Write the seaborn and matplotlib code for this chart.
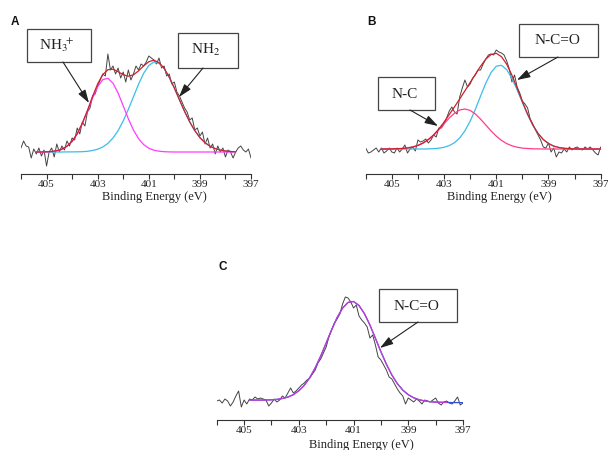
import numpy as np
import matplotlib
matplotlib.use("Agg")
import matplotlib.pyplot as plt
from matplotlib.patches import Rectangle
import seaborn as sns

# --------------------------
# Data (intensity in arbitrary units)
# --------------------------

raw_energy = np.round(np.arange(406.0, 396.95, -0.1), 1)
fit_energy_a = np.round(np.arange(405.4, 397.55, -0.2), 1)
fit_energy_b = np.round(np.arange(405.4, 396.95, -0.2), 1)
fit_energy_c = np.round(np.arange(404.8, 396.95, -0.2), 1)

a_raw = [26, 33, 28, 27, 16, 25, 20, 26, 18, 24,
         8, 22, 26, 17, 30, 22, 28, 24, 33, 28,
         36, 34, 46, 40, 52, 48, 62, 66, 78, 80,
         88, 94, 100, 98, 120, 104, 108, 100, 106, 96,
         102, 92, 104, 94, 100, 108, 104, 110, 108, 112,
         118, 116, 114, 110, 116, 106, 108, 98, 100, 90,
         92, 82, 78, 72, 66, 62, 54, 56, 44, 46,
         38, 42, 30, 36, 26, 30, 20, 28, 22, 26,
         17, 24, 22, 16, 22, 26, 28, 24, 22, 25,
         16]
a_nh3 = [22.0, 22.0, 22.2, 22.5, 23.3, 24.8, 27.7, 32.6, 40.1, 50.5,
         62.9, 76.0, 87.3, 94.4, 95.7, 90.8, 80.9, 68.2, 55.2, 44.0,
         35.3, 29.4, 25.8, 23.8, 22.8, 22.3, 22.1, 22.0, 22.0, 22.0,
         22.0, 22.0, 22.0, 22.0, 22.0, 22.0, 22.0, 22.0, 22.0, 22.0]
a_nh2 = [22.0, 22.0, 22.0, 22.0, 22.0, 22.0, 22.1, 22.1, 22.2, 22.3,
         22.7, 23.5, 24.8, 27.0, 30.6, 36.0, 43.4, 53.1, 64.6, 77.2,
         89.8, 100.7, 108.5, 112.0, 110.6, 105.4, 96.8, 86.0, 74.2, 62.6,
         52.2, 43.4, 36.4, 31.3, 27.7, 25.4, 23.9, 23.0, 22.5, 22.2]
a_base = 22.0

b_raw = [26, 21, 22, 24, 26, 22, 26, 21, 23, 26,
         22, 21, 26, 22, 25, 29, 21, 25, 27, 23,
         34, 32, 33, 35, 31, 34, 39, 37, 46, 46,
         50, 56, 63, 67, 62, 60, 77, 86, 94, 87,
         90, 96, 99, 104, 104, 110, 115, 119, 120, 119,
         124, 122, 121, 119, 113, 105, 92, 99, 87, 81,
         73, 70, 66, 55, 50, 44, 39, 34, 27, 26,
         31, 22, 26, 17, 22, 21, 25, 22, 27, 24,
         26, 27, 25, 24, 27, 25, 27, 24, 21, 19,
         27]
b_nc = [25.0, 25.0, 25.1, 25.3, 25.5, 26.1, 27.0, 28.6, 31.0, 34.4,
        38.8, 44.2, 50.2, 56.0, 60.8, 64.0, 65.0, 63.6, 60.0, 54.8,
        49.0, 43.1, 37.9, 33.6, 30.4, 28.2, 26.8, 25.9, 25.5, 25.2,
        25.1, 25.0, 25.0, 25.0, 25.0, 25.0, 25.0, 25.0, 25.0, 25.0,
        25.0, 25.0, 25.0]
b_nco = [25.0, 25.0, 25.0, 25.0, 25.0, 25.0, 25.0, 25.0, 25.0, 25.1,
         25.3, 25.8, 26.7, 28.4, 31.3, 36.1, 43.2, 52.8, 64.7, 78.0,
         90.9, 101.4, 107.8, 108.7, 104.4, 95.6, 84.1, 71.5, 59.4, 48.8,
         40.5, 34.5, 30.5, 27.9, 26.5, 25.7, 25.3, 25.1, 25.0, 25.0,
         25.0, 25.0, 25.0]
b_base = 25.0

c_raw = [19, 20, 17, 21, 19, 14, 18, 24, 29, 13,
         20, 16, 21, 20, 23, 21, 22, 21, 20, 14,
         17, 21, 18, 20, 24, 22, 27, 32, 27, 29,
         32, 35, 37, 40, 42, 46, 50, 57, 61, 67,
         73, 83, 90, 97, 101, 106, 116, 123, 122, 118,
         112, 115, 104, 100, 97, 93, 82, 85, 75, 63,
         60, 55, 50, 43, 41, 36, 31, 27, 24, 16,
         22, 20, 18, 21, 19, 16, 20, 19, 18, 20,
         22, 17, 15, 18, 19, 17, 16, 19, 23, 15,
         17]
c_nco = [20.0, 19.9, 19.9, 20.0, 20.2, 20.6, 21.5, 22.9, 25.3, 29.2,
         34.7, 42.3, 52.2, 63.9, 77.0, 90.3, 102.4, 111.9, 117.6, 118.5,
         114.5, 106.3, 94.9, 81.7, 68.3, 55.8, 45.0, 36.4, 29.9, 25.3,
         22.2, 20.2, 19.1, 18.3, 17.9, 17.7, 17.6, 17.4, 17.4, 17.3]
c_env_points = 37

major_ticks = [405, 403, 401, 399, 397]
minor_ticks = [406, 404, 402, 400, 398]

RAW = "#444444"
RED = "#d0202a"
CYAN = "#3cbde8"
MAGENTA = "#ff3cff"
PINK = "#ff3d8b"
VIOLET = "#c83ad8"
BLUE = "#2f4fd0"

# --------------------------
# Style
# --------------------------
sns.set_style("white")
plt.rcParams["font.family"] = ["Liberation Serif", "DejaVu Serif"]
plt.rcParams["mathtext.fontset"] = "stix"


def setup_axis(ax, ytop, label_x, label_y):
    ax.set_xlim(406, 397)
    ax.set_ylim(0, ytop)
    ax.set_xticks(major_ticks)
    ax.set_xticks(minor_ticks, minor=True)
    ax.set_xticklabels([str(t) for t in major_ticks])
    ax.tick_params(axis="x", which="both", direction="out", length=3.5,
                   width=0.8, color="#333333", pad=1, labelsize=8,
                   labelcolor="#222222", bottom=True)
    ax.set_yticks([])
    ax.set_ylabel("")
    for s in ["top", "left", "right"]:
        ax.spines[s].set_visible(False)
    ax.spines["bottom"].set_color("#333333")
    ax.spines["bottom"].set_linewidth(0.8)
    ax.set_xlabel("Binding Energy (eV)", fontsize=9, color="#222222")
    ax.xaxis.set_label_coords(label_x, label_y)
    ax.patch.set_alpha(0)


def line(ax, x, y, color, lw=0.9):
    sns.lineplot(x=x, y=y, ax=ax, color=color, linewidth=lw, errorbar=None)


fig = plt.figure(figsize=(6.08, 4.5), dpi=100)

# panel A
ax_a = fig.add_axes([21 / 608, 1 - 174 / 450, 230 / 608, 154 / 450])
line(ax_a, raw_energy, a_raw, RAW, 0.7)
line(ax_a, fit_energy_a, a_nh2, CYAN)
line(ax_a, fit_energy_a, a_nh3, MAGENTA)
a_env = np.array(a_nh3) + np.array(a_nh2) - a_base
line(ax_a, fit_energy_a, a_env, RED)
setup_axis(ax_a, 154, 0.578, -0.11)

# panel B
ax_b = fig.add_axes([365.7 / 608, 1 - 174 / 450, 235 / 608, 154 / 450])
line(ax_b, raw_energy, b_raw, RAW, 0.7)
line(ax_b, fit_energy_b, b_nco, CYAN)
line(ax_b, fit_energy_b, b_nc, PINK)
b_env = np.array(b_nc) + np.array(b_nco) - b_base
line(ax_b, fit_energy_b, b_env, RED)
setup_axis(ax_b, 154, 0.570, -0.11)

# panel C
ax_c = fig.add_axes([216.7 / 608, 1 - 420 / 450, 246.3 / 608, 150 / 450])
line(ax_c, raw_energy, c_raw, RAW, 0.7)
line(ax_c, fit_energy_c, c_nco, BLUE)
line(ax_c, fit_energy_c[:c_env_points], c_nco[:c_env_points], VIOLET)
setup_axis(ax_c, 150, 0.589, -0.125)

# --------------------------
# Annotations (pixel coordinates of the figure)
# --------------------------
ov = fig.add_axes([0, 0, 1, 1], zorder=10)
ov.set_xlim(0, 608)
ov.set_ylim(450, 0)
ov.axis("off")
ov.patch.set_alpha(0)

boxes = [
    (27, 29, 91, 62, r"NH$_3\!\!{}^+$", 57, 45),
    (178, 33, 238, 68, r"NH$_2$", 206, 50),
    (519, 24, 598, 57, "N-C=O", 557, 41),
    (378, 77, 435, 110, "N-C", 405, 94),
    (379, 289, 457, 322, "N-C=O", 416, 306),
]
for x0, y0, x1, y1, txt, tx, ty in boxes:
    ov.add_patch(Rectangle((x0, y0), x1 - x0, y1 - y0, facecolor="white",
                           edgecolor="#444444", linewidth=0.9))
    ov.text(tx, ty, txt, ha="center", va="center", fontsize=11,
            color="#222222")

arrows = [
    ((63, 62), (89, 103)),
    ((203, 68), (179, 97)),
    ((558, 57), (517, 80)),
    ((410, 110), (438, 126)),
    ((418, 322), (380, 348)),
]
for start, tip in arrows:
    ov.annotate("", xy=tip, xytext=start,
                arrowprops=dict(arrowstyle="-|>,head_length=0.8,head_width=0.25",
                                color="#222222", lw=0.8,
                                shrinkA=0, shrinkB=0))

for letter, lx, ly in [("A", 15, 22), ("B", 371, 22), ("C", 223, 267)]:
    ov.text(lx, ly, letter, ha="center", va="center", fontsize=8.5,
            fontweight="bold", family="Liberation Sans", color="#111111")

fig.savefig("out.png", dpi=100)
